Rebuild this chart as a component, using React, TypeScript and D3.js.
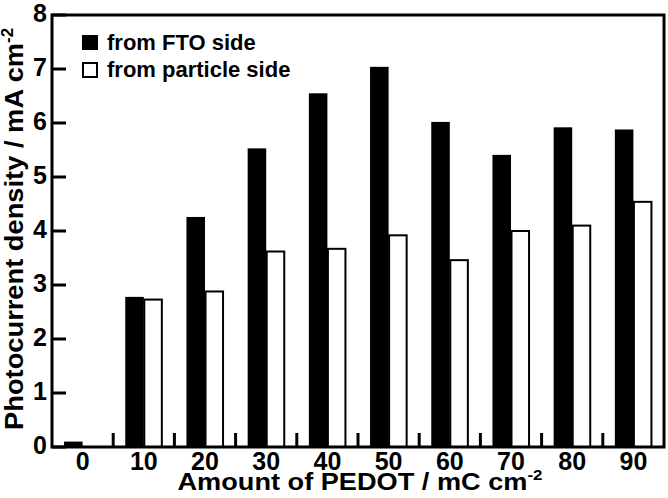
import * as d3 from "d3";

const categories = ["0", "10", "20", "30", "40", "50", "60", "70", "80", "90"];
const ftoSide = [0.1, 2.78, 4.26, 5.53, 6.55, 7.04, 6.02, 5.41, 5.92, 5.88];
const particleSide = [0, 2.73, 2.88, 3.62, 3.67, 3.92, 3.46, 4.0, 4.1, 4.54];
const seriesNames = ["from FTO side", "from particle side"];
const yTicks = [0, 1, 2, 3, 4, 5, 6, 7, 8];

const W = 668;
const H = 498;
const margin = { top: 15, right: 4, bottom: 51, left: 52 };
const font = "'Liberation Sans', Arial, Helvetica, sans-serif";

export default function App() {
  const x0 = d3.scaleBand<string>()
    .domain(categories)
    .range([margin.left, W - margin.right])
    .paddingInner(0)
    .paddingOuter(0);
  const x1 = d3.scaleBand<string>()
    .domain(["fto", "particle"])
    .range([0, x0.bandwidth()])
    .paddingInner(0)
    .paddingOuter(0.65);
  const y = d3.scaleLinear().domain([0, 8]).range([H - margin.bottom, margin.top]);

  const bottom = y(0);
  const tickLen = 14;

  // boundaries between groups get the inward x ticks
  const boundaries = categories.slice(1).map((c) => x0(c)!);

  return (
    <svg
      width={W}
      height={H}
      style={{ position: "absolute", left: 0, top: 0, background: "#fff" }}
      fontFamily={font}
      fontWeight="bold"
    >
      {/* bars */}
      {categories.map((c, i) => (
        <g key={c} transform={`translate(${x0(c)},0)`}>
          {ftoSide[i] > 0 && (
            <rect
              x={x1("fto")}
              y={y(ftoSide[i])}
              width={x1.bandwidth()}
              height={bottom - y(ftoSide[i])}
              fill="#000"
            />
          )}
          {particleSide[i] > 0 && (
            <rect
              x={x1("particle")! + 0.5}
              y={y(particleSide[i])}
              width={x1.bandwidth() - 1}
              height={bottom - y(particleSide[i])}
              fill="#fff"
              stroke="#000"
              strokeWidth={2}
            />
          )}
        </g>
      ))}

      {/* y ticks (inward) */}
      {yTicks.map((t) => (
        <g key={t}>
          <line x1={margin.left} x2={margin.left + tickLen} y1={y(t)} y2={y(t)} stroke="#000" strokeWidth={3} />
          <text x={47} y={y(t) - 2} textAnchor="end" dominantBaseline="central" fontSize={25}>
            {t}
          </text>
        </g>
      ))}

      {/* x ticks between groups */}
      {boundaries.map((bx, i) => (
        <line key={i} x1={bx} x2={bx} y1={bottom} y2={bottom - tickLen} stroke="#000" strokeWidth={3} />
      ))}
      {categories.map((c) => (
        <text key={c} x={x0(c)! + x0.bandwidth() / 2} y={470} textAnchor="middle" fontSize={25}>
          {c}
        </text>
      ))}

      {/* frame */}
      <rect
        x={margin.left}
        y={margin.top}
        width={W - margin.left - margin.right}
        height={bottom - margin.top}
        fill="none"
        stroke="#000"
        strokeWidth={3}
      />

      {/* legend */}
      <rect x={82} y={35} width={16} height={15} fill="#000" />
      <text x={107} y={50} fontSize={22}>{seriesNames[0]}</text>
      <rect x={83} y={63} width={14} height={14} fill="#fff" stroke="#000" strokeWidth={2} />
      <text x={107} y={77} fontSize={22}>{seriesNames[1]}</text>

      {/* axis titles */}
      <text x={360} y={490} textAnchor="middle" fontSize={24} textLength={365} lengthAdjust="spacingAndGlyphs">
        Amount of PEDOT / mC cm<tspan dy={-10} fontSize={15}>-2</tspan>
      </text>
      <text
        transform={`translate(23,229) rotate(-90)`}
        textAnchor="middle"
        fontSize={26}
        textLength={402}
        lengthAdjust="spacingAndGlyphs"
      >
        Photocurrent density / mA cm<tspan dy={-10} fontSize={16}>-2</tspan>
      </text>
    </svg>
  );
}
